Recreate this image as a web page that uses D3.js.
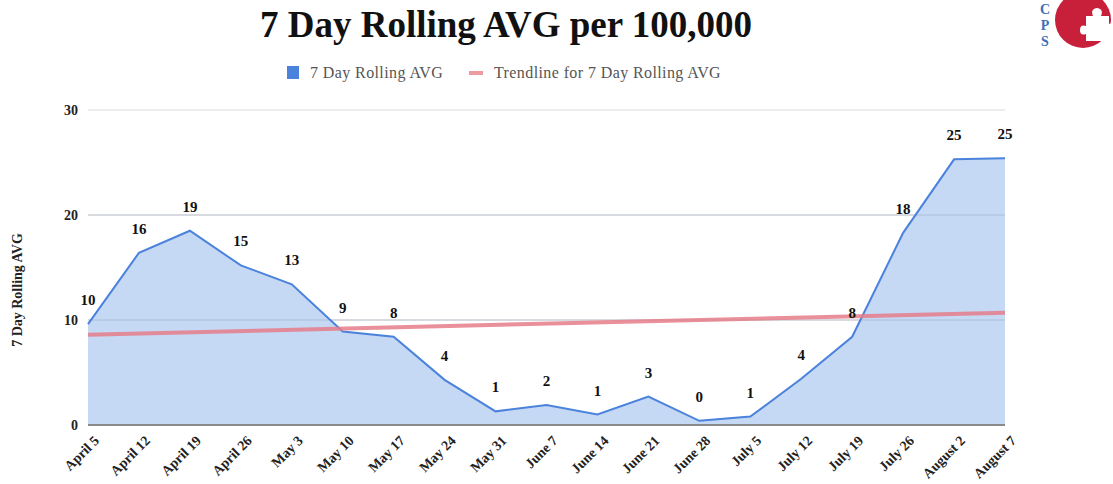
<!DOCTYPE html>
<html lang="en">
<head>
<meta charset="utf-8">
<title>7 Day Rolling AVG per 100,000</title>
<script src="https://cdn.jsdelivr.net/npm/d3@7"></script>
<style>
  body { margin: 0; background: #fff; }
  svg { display: block; }
  text { font-family: "Liberation Serif", "DejaVu Serif", serif; }
</style>
</head>
<body>
<script>
var w = 1113;
var h = 484;

var dates = ["April 5", "April 12", "April 19", "April 26", "May 3", "May 10", "May 17",
  "May 24", "May 31", "June 7", "June 14", "June 21", "June 28", "July 5", "July 12",
  "July 19", "July 26", "August 2", "August 7"];
var rollingAvg = [9.6, 16.4, 18.5, 15.2, 13.4, 8.9, 8.4, 4.3, 1.3, 1.9, 1.0, 2.7, 0.4, 0.8,
  4.4, 8.4, 18.3, 25.3, 25.4];
var trendEnds = [8.6, 10.7];
var yTicks = [0, 10, 20, 30];

var margin = { left: 88, right: 108, top: 110, bottom: 59 };

var svg = d3.select("body").append("svg")
  .attr("width", w)
  .attr("height", h);

var x = d3.scalePoint()
  .domain(dates)
  .range([margin.left, w - margin.right]);

var y = d3.scaleLinear()
  .domain([0, 30])
  .range([h - margin.bottom, margin.top]);

//// Title
svg.append("text")
  .attr("x", 506)
  .attr("y", 37)
  .attr("text-anchor", "middle")
  .attr("font-size", "37px")
  .attr("font-weight", "bold")
  .attr("fill", "#111")
  .text("7 Day Rolling AVG per 100,000");

//// Legend
var legend = svg.append("g").attr("font-size", "16px").attr("letter-spacing", "0.4px");
legend.append("rect")
  .attr("x", 287).attr("y", 66).attr("width", 12).attr("height", 13)
  .attr("fill", "#4a82dc");
legend.append("text").attr("x", 310).attr("y", 78).attr("fill", "#555").text("7 Day Rolling AVG");
legend.append("line")
  .attr("x1", 469).attr("x2", 483).attr("y1", 73).attr("y2", 73)
  .attr("stroke", "#ee9aa2").attr("stroke-width", 4);
legend.append("text").attr("x", 494).attr("y", 78).attr("fill", "#555").text("Trendline for 7 Day Rolling AVG");

//// Gridlines
svg.append("g")
  .selectAll("line")
  .data(yTicks.slice(1))
  .enter()
  .append("line")
  .attr("x1", margin.left)
  .attr("x2", w - margin.right)
  .attr("y1", function(d) { return y(d); })
  .attr("y2", function(d) { return y(d); })
  .attr("stroke", "#d9d9d9")
  .attr("stroke-width", 1);

//// Area + line
var pts = dates.map(function(d, i) { return [d, rollingAvg[i]]; });

svg.append("path")
  .datum(pts)
  .attr("d", d3.area()
    .x(function(d) { return x(d[0]); })
    .y0(y(0))
    .y1(function(d) { return y(d[1]); }))
  .attr("fill", "#c5d8f4");

// gridlines show through the area faintly
svg.append("g")
  .selectAll("line")
  .data(yTicks.slice(1, 3))
  .enter()
  .append("line")
  .attr("x1", margin.left)
  .attr("x2", w - margin.right)
  .attr("y1", function(d) { return y(d); })
  .attr("y2", function(d) { return y(d); })
  .attr("stroke", "#9aa8bd")
  .attr("stroke-opacity", 0.5)
  .attr("stroke-width", 1);

svg.append("path")
  .datum(pts)
  .attr("d", d3.line()
    .x(function(d) { return x(d[0]); })
    .y(function(d) { return y(d[1]); }))
  .attr("fill", "none")
  .attr("stroke", "#4a82dc")
  .attr("stroke-width", 2);

//// Trendline
svg.append("line")
  .attr("x1", x(dates[0]))
  .attr("x2", x(dates[dates.length - 1]))
  .attr("y1", y(trendEnds[0]))
  .attr("y2", y(trendEnds[1]))
  .attr("stroke", "#e57c88")
  .attr("stroke-opacity", 0.85)
  .attr("stroke-width", 4);

//// Baseline
svg.append("line")
  .attr("x1", margin.left)
  .attr("x2", w - margin.right)
  .attr("y1", y(0))
  .attr("y2", y(0))
  .attr("stroke", "#8a8a8a")
  .attr("stroke-width", 2);

//// Data labels
svg.append("g")
  .selectAll("text")
  .data(pts)
  .enter()
  .append("text")
  .attr("x", function(d) { return x(d[0]); })
  .attr("y", function(d) { return y(d[1]) - 19; })
  .attr("text-anchor", "middle")
  .attr("font-size", "15px")
  .attr("font-weight", "bold")
  .attr("fill", "#111")
  .text(function(d) { return Math.round(d[1]); });

//// Y axis
var yAxis = svg.append("g")
  .attr("transform", "translate(" + (margin.left - 10) + ",0)")
  .call(d3.axisLeft(y).tickValues(yTicks).tickSize(0).tickPadding(0));
yAxis.select(".domain").remove();
yAxis.selectAll("text")
  .attr("font-family", "Liberation Serif, serif")
  .attr("font-size", "14px")
  .attr("font-weight", "bold")
  .attr("fill", "#222");

svg.append("text")
  .attr("transform", "translate(22,290) rotate(-90)")
  .attr("text-anchor", "middle")
  .attr("font-size", "14px")
  .attr("font-weight", "bold")
  .attr("fill", "#222")
  .text("7 Day Rolling AVG");

//// X axis
var xAxis = svg.append("g")
  .attr("transform", "translate(0," + y(0) + ")")
  .call(d3.axisBottom(x).tickSize(0).tickPadding(0));
xAxis.select(".domain").remove();
xAxis.selectAll("text")
  .attr("font-family", "Liberation Serif, serif")
  .attr("font-size", "14px")
  .attr("font-weight", "bold")
  .attr("fill", "#222")
  .attr("text-anchor", "end")
  .attr("x", 0)
  .attr("y", 0)
  .attr("dy", "0.35em")
  .attr("transform", "translate(8,13) rotate(-45)");

//// Logo
var logo = svg.append("g");
logo.append("circle")
  .attr("cx", 1083).attr("cy", 20).attr("r", 28)
  .attr("fill", "#c8203a");
logo.append("path")
  .attr("d", "M1086,16 h7 q-3,-7 4,-8 q7,1 4,8 h8 v8 q7,-3 8,4 q-1,7 -8,4 v9 h-23 v-7 q-6,2 -6,-4 q0,-6 6,-4 z")
  .attr("fill", "#fff");
logo.selectAll("text.cps")
  .data(["C", "P", "S"])
  .enter()
  .append("text")
  .attr("class", "cps")
  .attr("x", 1045)
  .attr("y", function(d, i) { return 14 + i * 16; })
  .attr("text-anchor", "middle")
  .attr("font-family", "Liberation Sans, sans-serif")
  .attr("font-size", "14px")
  .attr("font-weight", "bold")
  .attr("fill", "#3d6fb6")
  .text(function(d) { return d; });
</script>
</body>
</html>
